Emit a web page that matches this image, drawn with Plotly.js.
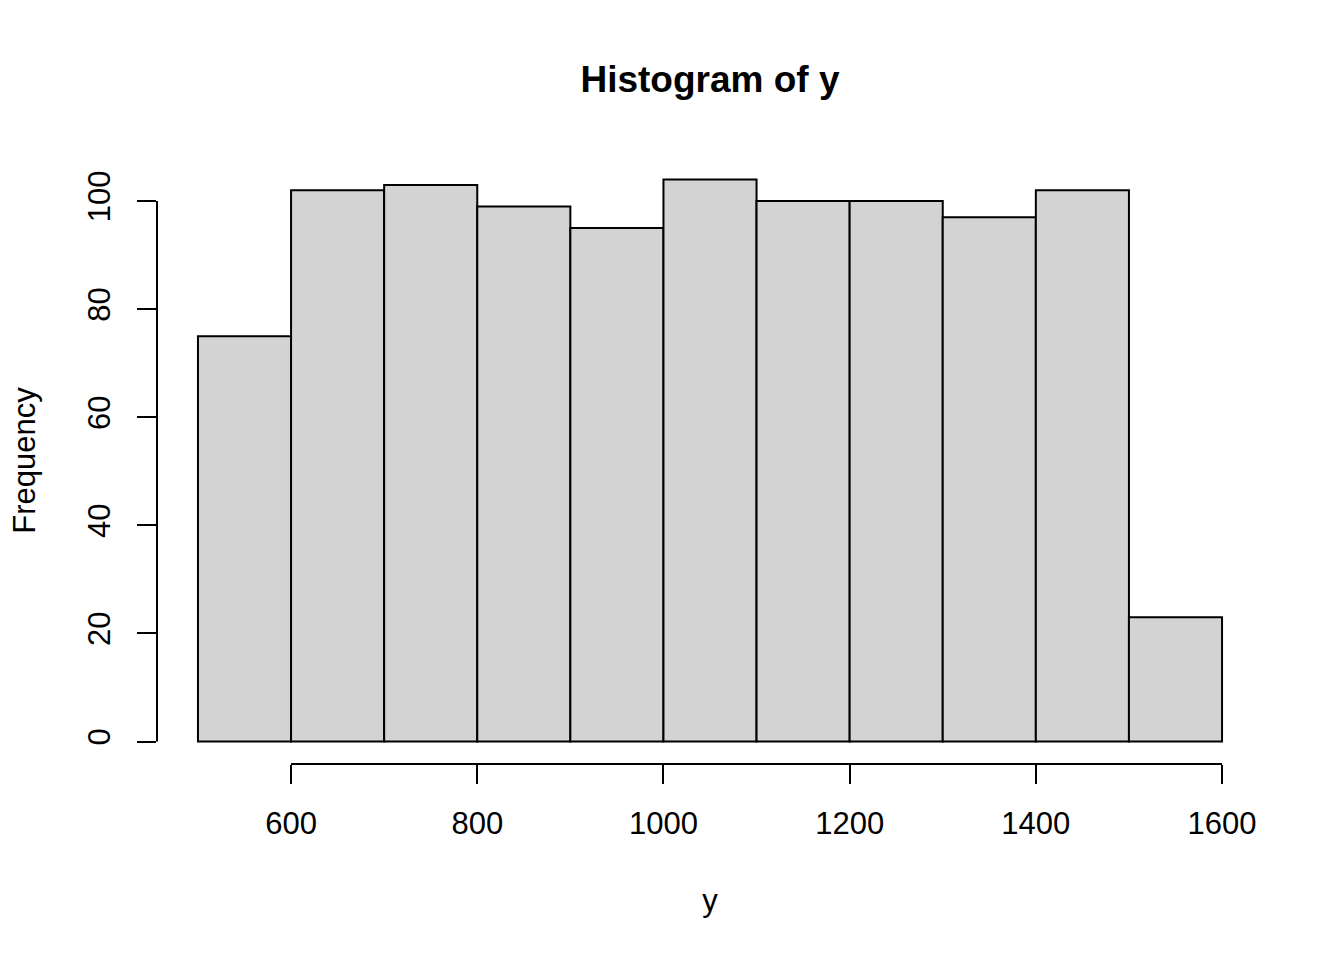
<!DOCTYPE html>
<html>
<head>
<meta charset="utf-8">
<script src="https://cdn.plot.ly/plotly-3.0.1.min.js"></script>
<style>html,body{margin:0;padding:0;background:#fff;}#chart{width:1344px;height:960px;}</style>
</head>
<body>
<div id="chart"></div>
<script>
// Histogram data (bin lower edges, width 100)
const binStarts = [500, 600, 700, 800, 900, 1000, 1100, 1200, 1300, 1400, 1500];
const binWidth = 100;
const counts = [75, 102, 103, 99, 95, 104, 100, 100, 97, 102, 23];
const xTicks = [600, 800, 1000, 1200, 1400, 1600];
const yTicks = [0, 20, 40, 60, 80, 100];
const titleText = "Histogram of y";
const xLabel = "y";
const yLabel = "Frequency";

const FONT = "Liberation Sans, Arial, Helvetica, sans-serif";

const centers = binStarts.map(s => s + binWidth / 2);
const allEdges = binStarts.concat([binStarts[binStarts.length - 1] + binWidth]);
const xmin = Math.min(...allEdges), xmax = Math.max(...allEdges);
const ymax = Math.max(...counts);
const xpad = (xmax - xmin) * 0.04, ypad = ymax * 0.04;

const trace = {
  type: 'bar',
  x: centers,
  y: counts,
  width: binWidth,
  marker: {color: '#D3D3D3', line: {color: '#000000', width: 2}},
  hoverinfo: 'x+y'
};

const layout = {
  width: 1344, height: 960,
  paper_bgcolor: '#ffffff', plot_bgcolor: '#ffffff',
  margin: {l: 157, r: 81, t: 157, b: 196, pad: 0},
  showlegend: false,
  bargap: 0,
  font: {family: FONT, size: 31, color: '#000'},
  title: {
    text: '<b>' + titleText + '</b>',
    font: {family: FONT, size: 37, color: '#000'},
    x: 0.5, xref: 'paper', xanchor: 'center',
    y: 1 - 79 / 960, yref: 'container', yanchor: 'middle'
  },
  xaxis: {
    range: [xmin - xpad, xmax + xpad],
    tickmode: 'array', tickvals: xTicks, ticktext: xTicks.map(String),
    showgrid: false, zeroline: false, showline: false,
    ticks: 'outside', ticklen: 19, tickwidth: 2, tickcolor: '#000',
    ticklabelstandoff: 13,
    tickfont: {family: FONT, size: 31, color: '#000'},
    title: {text: xLabel, font: {family: FONT, size: 31, color: '#000'}, standoff: 49},
    fixedrange: true
  },
  yaxis: {
    range: [-ypad, ymax + ypad],
    tickmode: 'array', tickvals: yTicks, ticktext: yTicks.map(String),
    showgrid: false, zeroline: false, showline: false,
    ticks: 'outside', ticklen: 19, tickwidth: 2, tickcolor: '#000',
    tickangle: -90,
    ticklabelstandoff: 15,
    tickfont: {family: FONT, size: 31, color: '#000'},
    title: {text: yLabel, font: {family: FONT, size: 31, color: '#000'}, standoff: 36},
    fixedrange: true
  },
  shapes: [
    {type: 'line', xref: 'x', yref: 'paper', x0: xTicks[0], x1: xTicks[xTicks.length - 1], y0: 0, y1: 0,
     line: {color: '#000', width: 2}},
    {type: 'line', xref: 'paper', yref: 'y', x0: 0, x1: 0, y0: yTicks[0], y1: yTicks[yTicks.length - 1],
     line: {color: '#000', width: 2}}
  ]
};

Plotly.newPlot('chart', [trace], layout, {displayModeBar: false, staticPlot: true});
</script>
</body>
</html>
